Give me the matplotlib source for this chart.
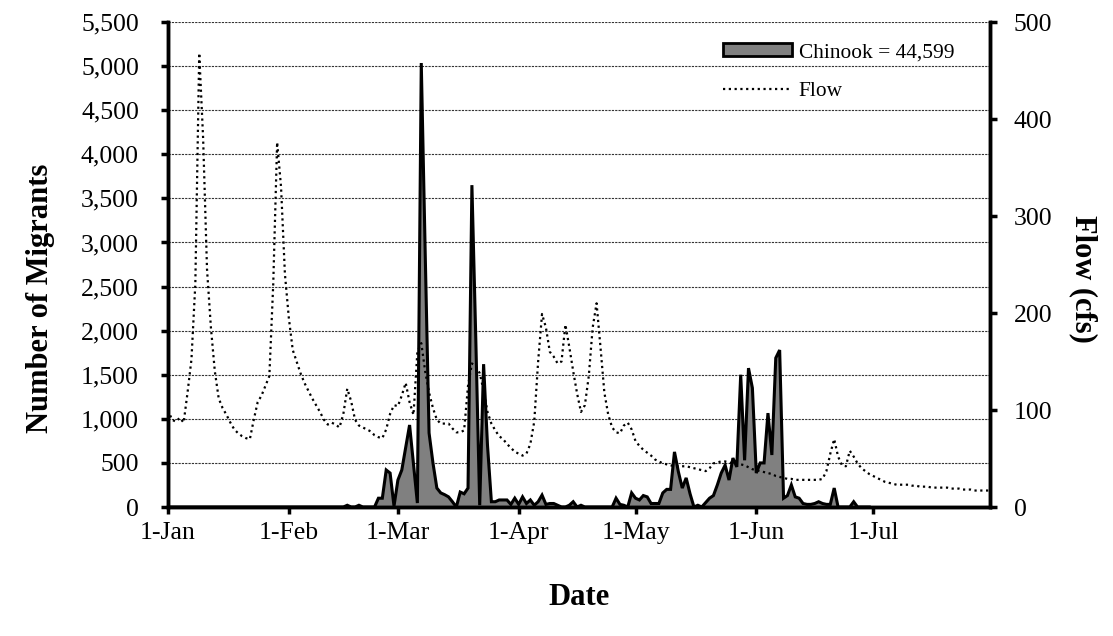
import numpy as np
import matplotlib
matplotlib.use('Agg')
import matplotlib.pyplot as plt
from matplotlib.patches import Patch
from matplotlib.lines import Line2D

plt.rcParams['font.family'] = ['Liberation Serif', 'DejaVu Serif']

# flusso giornaliero (cfs), dal 1-Jan al 31-Jul
flow = [100, 90, 88, 92, 87, 118, 152, 230, 468, 380,
        245, 185, 140, 112, 102, 95, 87, 80, 76, 73,
        71, 70, 90, 108, 115, 125, 135, 230, 376, 330,
        240, 195, 162, 150, 138, 128, 120, 112, 105, 98,
        90, 85, 87, 85, 82, 96, 122, 109, 90, 84,
        82, 80, 78, 74, 72, 71, 80, 96, 105, 104,
        115, 128, 108, 95, 160, 169, 140, 118, 102, 90,
        86, 86, 86, 81, 77, 77, 79, 125, 148, 145,
        138, 120, 98, 86, 79, 73, 70, 65, 61, 57,
        55, 53, 55, 65, 88, 150, 199, 185, 160, 155,
        148, 150, 188, 165, 140, 117, 98, 105, 135, 185,
        210, 165, 118, 95, 82, 77, 76, 84, 87, 80,
        68, 63, 59, 56, 53, 49, 47, 45, 44, 43,
        42, 42, 42, 42, 41, 40, 39, 38, 37, 40,
        45, 46, 47, 47, 46, 45, 44, 44, 43, 41,
        39, 38, 37, 36, 35, 34, 32, 31, 30, 29,
        29, 28, 28, 28, 28, 28, 28, 28, 29, 37,
        55, 70, 52, 43, 42, 58, 52, 45, 40, 37,
        34, 32, 30, 28, 26, 25, 24, 23, 23, 23,
        23, 22, 22, 21, 21, 21, 20, 20, 20, 20,
        20, 19, 19, 19, 18, 18, 18, 17, 17, 17,
        17, 17]

# migranti giornalieri (Chinook), dal 1-Jan
chinook = [0] * 46 + [
    20, 0, 0, 20, 0, 0, 0, 0, 100, 100,
    420, 385, 10, 306, 420, 675, 930, 490, 45, 5035,
    2900, 840, 500, 215, 160, 140, 115, 60, 0, 170,
    150, 215, 3650, 1900, 20, 1620, 700, 60, 60, 80,
    80, 80, 30, 100, 30, 115, 40, 80, 20, 60,
    135, 30, 40, 40, 20, 0, 0, 20, 60, 0,
    20, 0, 0, 0, 0, 0, 0, 0, 0, 100,
    30, 20, 0, 160, 100, 80, 130, 115, 40, 40,
    40, 160, 200, 200, 625, 400, 215, 330, 150, 0,
    20, 0, 50, 100, 130, 250, 385, 475, 306, 555,
    455, 1500, 530, 1575, 1350, 385, 500, 500, 1065, 590,
    1690, 1780, 100, 130, 250, 115, 100, 40, 30, 30,
    40, 60, 40, 30, 30, 215, 0, 0, 0, 0,
    60, 0, 0, 0, 0]

month_days = [0, 31, 59, 90, 120, 151, 181]
month_labels = ['1-Jan', '1-Feb', '1-Mar', '1-Apr', '1-May', '1-Jun', '1-Jul']

days_f = np.arange(len(flow))
days_c = np.arange(len(chinook))

fig = plt.figure(figsize=(11.13, 6.36), dpi=100)
ax = fig.add_axes([0.151, 0.2028, 0.7385, 0.7626])
ax2 = ax.twinx()

ax.fill_between(days_c, chinook, 0, facecolor='#808080', edgecolor='none', zorder=2)
ax.plot(days_c, chinook, color='black', lw=2.2, zorder=3, solid_joinstyle='miter')

ax2.plot(days_f, flow, color='black', lw=1.6, ls=(0, (1, 1.6)))

ax.set_xlim(0, 211)
ax.set_ylim(0, 5500)
ax2.set_ylim(0, 500)
ax.set_yticks(np.arange(0, 5501, 500))
ax.set_yticklabels(['{:,}'.format(v) for v in range(0, 5501, 500)])
ax2.set_yticks(np.arange(0, 501, 100))
ax.set_xticks(month_days)
ax.set_xticklabels(month_labels)

ax.yaxis.grid(True, color='#333333', lw=0.8, ls=(0, (2, 1)), zorder=0)
ax.set_axisbelow(True)

for a in (ax, ax2):
    a.spines['top'].set_visible(False)
    for s in ('left', 'right', 'bottom'):
        a.spines[s].set_linewidth(2.5)
    a.tick_params(axis='both', direction='out', length=5, width=2.5, labelsize=18.5)
ax.tick_params(axis='x', pad=6)
ax.tick_params(axis='y', pad=16)
ax2.tick_params(axis='y', pad=12)

ax.set_ylabel('Number of Migrants', fontsize=22, fontweight='bold', va='center')
ax.yaxis.set_label_coords(-0.155, 0.43)
ax2.set_ylabel('Flow (cfs)', fontsize=22, fontweight='bold', rotation=270, va='center')
ax2.yaxis.set_label_coords(1.113, 0.47)
ax.set_xlabel('Date', fontsize=22, fontweight='bold', va='center')
ax.xaxis.set_label_coords(0.5, -0.1856)

handles = [Patch(facecolor='#808080', edgecolor='black', lw=2),
           Line2D([], [], color='black', lw=1.6, ls=(0, (1, 1.6)))]
ax2.legend(handles, ['Chinook = 44,599', 'Flow'], loc='upper left',
           bbox_to_anchor=(704 / 1113, 1 - 24 / 636), bbox_transform=fig.transFigure,
           frameon=False, fontsize=15.4, handlelength=3.2, handleheight=0.56,
           labelspacing=0.9, handletextpad=0.33)

plt.savefig('out.png', dpi=100)
